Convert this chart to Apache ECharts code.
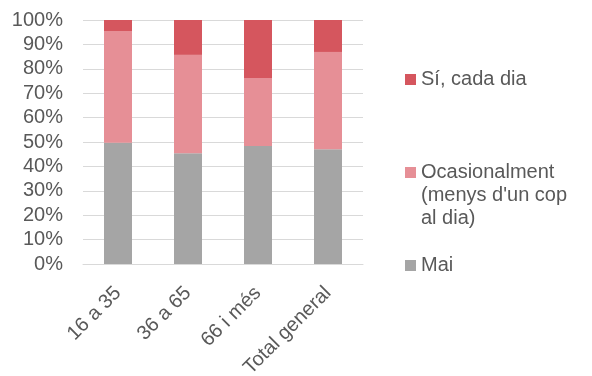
<!DOCTYPE html>
<html>
<head>
<meta charset="utf-8">
<script src="https://cdn.jsdelivr.net/npm/echarts@6/dist/echarts.min.js"></script>
<style>html,body{margin:0;padding:0;background:#fff}#c{width:592px;height:376px}</style>
</head>
<body>
<div id="c"></div>
<script>
const categories = ['16 a 35', '36 a 65', '66 i més', 'Total general'];
const mai = [49.7, 45.4, 48.4, 47.0];
const ocasionalment = [45.8, 40.3, 27.8, 39.9];
const cadaDia = [4.5, 14.3, 23.8, 13.1];
const yTicks = [0, 100, 10];
const names = ['Mai', "Ocasionalment (menys d'un cop al dia)", 'Sí, cada dia'];

const FONT = '"Liberation Sans", Arial, sans-serif';
const TXT = '#595959';
const chart = echarts.init(document.getElementById('c'), null, {renderer: 'canvas'});

const legendBase = {
  orient: 'vertical', left: 405, padding: 0, itemWidth: 11, itemHeight: 11, itemGap: 5,
  icon: 'rect', selectedMode: false,
  textStyle: {color: TXT, fontSize: 20, fontFamily: FONT, lineHeight: 23}
};

chart.setOption({
  animation: false,
  grid: {left: 83, right: 229, top: 20, bottom: 112, containLabel: false, outerBoundsMode: 'none'},
  legend: [
    Object.assign({}, legendBase, {top: 68, data: [names[2]]}),
    Object.assign({}, legendBase, {top: 115, data: [names[1]],
      formatter: () => " \n \nOcasionalment\n(menys d'un cop\nal dia)"}),
    Object.assign({}, legendBase, {top: 254, data: [names[0]]})
  ],
  xAxis: {
    type: 'category', data: categories,
    axisLine: {lineStyle: {color: '#D9D9D9', width: 1}},
    axisTick: {show: false},
    axisLabel: {rotate: 45, margin: 26, color: TXT, fontSize: 20, fontFamily: FONT, interval: 0}
  },
  yAxis: {
    type: 'value', min: yTicks[0], max: yTicks[1], interval: yTicks[2],
    axisLine: {show: false}, axisTick: {show: false},
    axisLabel: {formatter: '{value}%', margin: 20, color: TXT, fontSize: 20, fontFamily: FONT},
    splitLine: {lineStyle: {color: '#D9D9D9', width: 1}}
  },
  series: [
    {name: names[0], type: 'bar', stack: 't', data: mai, barWidth: 28, itemStyle: {color: '#A5A5A5'}},
    {name: names[1], type: 'bar', stack: 't', data: ocasionalment, barWidth: 28, itemStyle: {color: '#E68F96'}},
    {name: names[2], type: 'bar', stack: 't', data: cadaDia, barWidth: 28, itemStyle: {color: '#D5565E'}}
  ]
});
</script>
</body>
</html>
